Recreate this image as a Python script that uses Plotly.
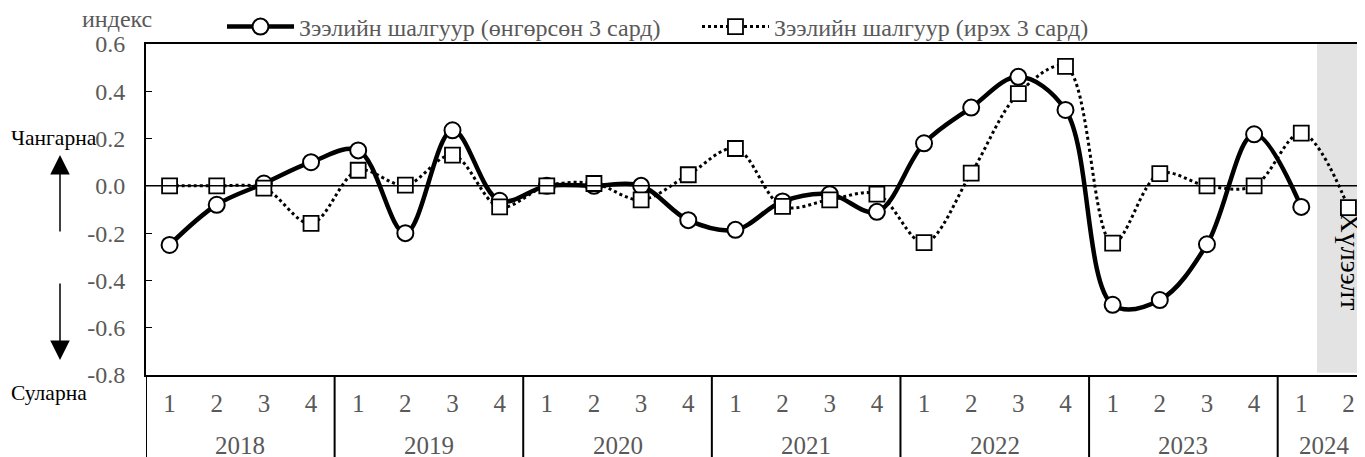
"""Credit standards index chart (past vs next 3 months)."""

import plotly.graph_objects as go

W, H = 1365, 457
# page body adds an 8px offset, so margins are shifted by that amount
OFF = 8
L, R, T, B = 138, 1, 36, 90

year_names = ["2018", "2019", "2020", "2021", "2022", "2023", "2024"]
quarters_in_year = [4, 4, 4, 4, 4, 4, 2]

past_3m = [
    -0.25, -0.08, 0.01, 0.10,
    0.15, -0.20, 0.235, -0.063,
    0.0, 0.0, 0.0, -0.145,
    -0.186, -0.066, -0.035, -0.11,
    0.18, 0.331, 0.461, 0.321,
    -0.503, -0.483, -0.247, 0.218,
    -0.089, None,
]
next_3m = [
    0.0, 0.0, -0.01, -0.159,
    0.066, 0.003, 0.13, -0.089,
    0.0, 0.01, -0.059, 0.047,
    0.158, -0.087, -0.059, -0.035,
    -0.24, 0.054, 0.39, 0.505,
    -0.242, 0.052, 0.0, 0.0,
    0.223, -0.092,
]
y_ticks = [-0.8, -0.6, -0.4, -0.2, 0.0, 0.2, 0.4, 0.6]

name_past = "Зээлийн шалгуур (өнгөрсөн 3 сард)"
name_next = "Зээлийн шалгуур (ирэх 3 сард)"

quarter_lbl = []
for n in quarters_in_year:
    quarter_lbl += [str(q) for q in range(1, n + 1)]
xs = list(range(len(quarter_lbl)))

FONT = "Liberation Serif, Times New Roman, serif"
GREY = "#595959"


def sx(x):
    # screen pixel -> paper x
    return (x - OFF - L) / (W - L - R)


def sy(y):
    # screen pixel -> paper y
    return (H - B - (y - OFF)) / (H - B - T)


fig = go.Figure()

fig.add_trace(go.Scatter(
    x=xs, y=past_3m, name=name_past, mode="lines+markers",
    line=dict(color="black", width=4.5, shape="spline"),
    marker=dict(symbol="circle", size=16, color="white", line=dict(color="black", width=2)),
))
fig.add_trace(go.Scatter(
    x=xs, y=next_3m, name=name_next, mode="lines+markers",
    line=dict(color="black", width=3, dash="dot", shape="spline"),
    marker=dict(symbol="square", size=15, color="white", line=dict(color="black", width=1.8)),
))

# year labels and dividers under the quarter labels
start = 0
for yr, n in zip(year_names, quarters_in_year):
    fig.add_annotation(text=yr, xref="x", yref="paper", x=start + (n - 1) / 2, y=sy(446),
                       yanchor="middle", showarrow=False,
                       font=dict(size=25, color=GREY, family=FONT))
    fig.add_shape(type="line", xref="x", yref="paper", x0=start - 0.5, x1=start - 0.5,
                  y0=0, y1=sy(H + 20), line=dict(color="black", width=2))
    start += n

# forecast shading
fig.add_shape(type="rect", xref="paper", yref="y", x0=sx(1317), x1=1.0, y0=-0.79, y1=0.6,
              fillcolor="#e3e3e3", line_width=0, layer="below")
fig.add_annotation(text="Хүлээлт", xref="paper", yref="y", x=sx(1350), y=-0.32,
                   xanchor="center", yanchor="middle",
                   showarrow=False, textangle=90, font=dict(size=28, color="black", family=FONT))

# side labels and arrows
fig.add_annotation(text="индекс", xref="paper", yref="paper", x=sx(80), y=sy(19),
                   xanchor="left", yanchor="middle", showarrow=False,
                   font=dict(size=24, color=GREY, family=FONT))
fig.add_annotation(text="Чангарна", xref="paper", yref="paper", x=sx(9), y=sy(138),
                   xanchor="left", yanchor="middle", showarrow=False,
                   font=dict(size=21.5, color="black", family=FONT))
fig.add_annotation(text="Суларна", xref="paper", yref="paper", x=sx(9), y=sy(393),
                   xanchor="left", yanchor="middle", showarrow=False,
                   font=dict(size=21.5, color="black", family=FONT))
fig.add_annotation(text="", xref="paper", yref="paper", x=sx(60), y=sy(155),
                   ax=0, ay=78, showarrow=True, arrowhead=2, arrowsize=2.6, arrowwidth=1.5,
                   arrowcolor="black")
fig.add_annotation(text="", xref="paper", yref="paper", x=sx(60), y=sy(360),
                   ax=0, ay=-78, showarrow=True, arrowhead=2, arrowsize=2.6, arrowwidth=1.5,
                   arrowcolor="black")

fig.add_hline(y=0, line_color="black", line_width=1.5)

fig.update_xaxes(
    range=[-0.5, len(xs) - 0.5], tickvals=xs, ticktext=quarter_lbl,
    showline=True, linecolor="black", linewidth=2, mirror=True,
    showgrid=False, zeroline=False, ticks="", ticklabelstandoff=5,
    tickfont=dict(size=25, color=GREY, family=FONT),
)
fig.update_yaxes(
    range=[-0.8, 0.6], tickvals=y_ticks, ticktext=[f"{v:.1f}" for v in y_ticks],
    showgrid=False, zeroline=False,
    showline=True, linecolor="black", linewidth=2, ticks="inside", ticklen=6,
    tickcolor="black", ticklabelstandoff=14, tickfont=dict(size=24, color=GREY, family=FONT),
)
fig.update_layout(
    width=W, height=H, plot_bgcolor="white", paper_bgcolor="white",
    margin=dict(l=L, r=R, t=T, b=B, autoexpand=False),
    font=dict(family=FONT, color=GREY),
    showlegend=True,
    legend=dict(orientation="h", x=sx(222), xanchor="left", y=sy(27), yanchor="middle",
                font=dict(size=24, color=GREY, family=FONT), itemwidth=67,
                entrywidth=393, entrywidthmode="pixels", bgcolor="rgba(0,0,0,0)"),
)

fig.write_html("out.html")
